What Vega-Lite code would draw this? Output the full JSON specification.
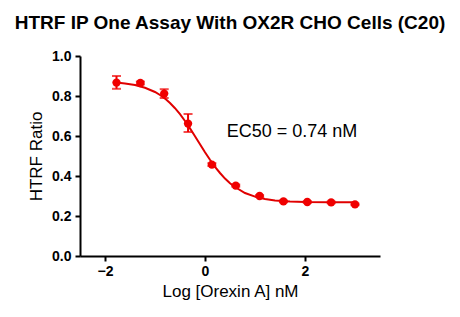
{
  "$schema": "https://vega.github.io/schema/vega-lite/v6.json",
  "width": 300,
  "height": 200,
  "autosize": "none",
  "padding": {"left": 80, "top": 56, "right": 80, "bottom": 61},
  "background": "white",
  "title": {
    "text": "HTRF IP One Assay With OX2R CHO Cells (C20)",
    "font": "Liberation Sans",
    "fontSize": 19,
    "fontWeight": "bold",
    "color": "black",
    "anchor": "middle",
    "offset": 16
  },
  "config": {
    "view": {"stroke": null},
    "axis": {
      "grid": false,
      "domainColor": "black",
      "domainWidth": 2,
      "tickColor": "black",
      "tickWidth": 2,
      "tickSize": 5,
      "labelFont": "Liberation Sans",
      "labelFontWeight": "bold",
      "labelFontSize": 14,
      "labelColor": "black",
      "labelOverlap": false,
      "labelFlush": false,
      "titleFont": "Liberation Sans",
      "titleFontWeight": "normal",
      "titleFontSize": 17,
      "titleColor": "black"
    },
    "axisX": {"values": [-2, 0, 2], "labelPadding": 3, "titlePadding": 5},
    "axisY": {"values": [0, 0.2, 0.4, 0.6, 0.8, 1.0], "format": ".1f", "labelPadding": 4, "titlePadding": 6}
  },
  "datasets": {
    "curve": [
      {"x": -1.77, "y": 0.867}, {"x": -1.6, "y": 0.863}, {"x": -1.4, "y": 0.855},
      {"x": -1.2, "y": 0.841}, {"x": -1.0, "y": 0.820}, {"x": -0.9, "y": 0.805},
      {"x": -0.8, "y": 0.787}, {"x": -0.7, "y": 0.765}, {"x": -0.6, "y": 0.739},
      {"x": -0.5, "y": 0.709}, {"x": -0.4, "y": 0.675}, {"x": -0.3, "y": 0.638},
      {"x": -0.2, "y": 0.599}, {"x": -0.1, "y": 0.559}, {"x": 0.0, "y": 0.519},
      {"x": 0.1, "y": 0.481}, {"x": 0.2, "y": 0.446}, {"x": 0.3, "y": 0.415},
      {"x": 0.4, "y": 0.387}, {"x": 0.5, "y": 0.364}, {"x": 0.6, "y": 0.345},
      {"x": 0.8, "y": 0.315}, {"x": 1.0, "y": 0.297}, {"x": 1.2, "y": 0.285},
      {"x": 1.4, "y": 0.278}, {"x": 1.7, "y": 0.273}, {"x": 2.0, "y": 0.270},
      {"x": 2.5, "y": 0.2686}, {"x": 3.0, "y": 0.2682}
    ],
    "pts": [
      {"x": -1.770, "y": 0.867, "lo": 0.836, "hi": 0.900},
      {"x": -1.293, "y": 0.865, "lo": 0.858, "hi": 0.872},
      {"x": -0.816, "y": 0.812, "lo": 0.790, "hi": 0.834},
      {"x": -0.339, "y": 0.662, "lo": 0.620, "hi": 0.710},
      {"x": 0.138, "y": 0.457, "lo": 0.450, "hi": 0.464},
      {"x": 0.615, "y": 0.352, "lo": 0.347, "hi": 0.357},
      {"x": 1.092, "y": 0.300, "lo": 0.296, "hi": 0.304},
      {"x": 1.569, "y": 0.273, "lo": 0.269, "hi": 0.277},
      {"x": 2.046, "y": 0.270, "lo": 0.266, "hi": 0.274},
      {"x": 2.523, "y": 0.268, "lo": 0.264, "hi": 0.272},
      {"x": 3.000, "y": 0.258, "lo": 0.254, "hi": 0.262}
    ],
    "label": [{"x": 1.74, "y": 0.62, "t": "EC50 = 0.74 nM"}]
  },
  "layer": [
    {
      "data": {"name": "curve"},
      "mark": {"type": "line", "color": "#e00000", "strokeWidth": 2},
      "encoding": {
        "x": {"field": "x", "type": "quantitative", "title": "Log [Orexin A] nM",
              "scale": {"domain": [-2.5, 3.5], "nice": false, "zero": false},
              "axis": {"values": [-2, 0, 2]}},
        "y": {"field": "y", "type": "quantitative", "title": "HTRF Ratio",
              "scale": {"domain": [0, 1], "nice": false}}
      }
    },
    {
      "data": {"name": "pts"},
      "mark": {"type": "rule", "color": "#f00000", "strokeWidth": 2},
      "encoding": {
        "x": {"field": "x", "type": "quantitative", "title": "Log [Orexin A] nM"},
        "y": {"field": "lo", "type": "quantitative", "title": "HTRF Ratio"},
        "y2": {"field": "hi"}
      }
    },
    {
      "data": {"name": "pts"},
      "mark": {"type": "tick", "color": "#f00000", "thickness": 2, "size": 9, "orient": "horizontal"},
      "encoding": {
        "x": {"field": "x", "type": "quantitative", "title": "Log [Orexin A] nM"},
        "y": {"field": "lo", "type": "quantitative", "title": "HTRF Ratio"}
      }
    },
    {
      "data": {"name": "pts"},
      "mark": {"type": "tick", "color": "#f00000", "thickness": 2, "size": 9, "orient": "horizontal"},
      "encoding": {
        "x": {"field": "x", "type": "quantitative", "title": "Log [Orexin A] nM"},
        "y": {"field": "hi", "type": "quantitative", "title": "HTRF Ratio"}
      }
    },
    {
      "data": {"name": "pts"},
      "mark": {"type": "circle", "color": "#f00000", "opacity": 1, "size": 70},
      "encoding": {
        "x": {"field": "x", "type": "quantitative", "title": "Log [Orexin A] nM"},
        "y": {"field": "y", "type": "quantitative", "title": "HTRF Ratio"}
      }
    },
    {
      "data": {"name": "label"},
      "mark": {"type": "text", "font": "Liberation Sans", "fontSize": 18, "color": "black", "align": "center", "baseline": "middle"},
      "encoding": {
        "x": {"field": "x", "type": "quantitative", "title": "Log [Orexin A] nM"},
        "y": {"field": "y", "type": "quantitative", "title": "HTRF Ratio"},
        "text": {"field": "t"}
      }
    }
  ]
}
